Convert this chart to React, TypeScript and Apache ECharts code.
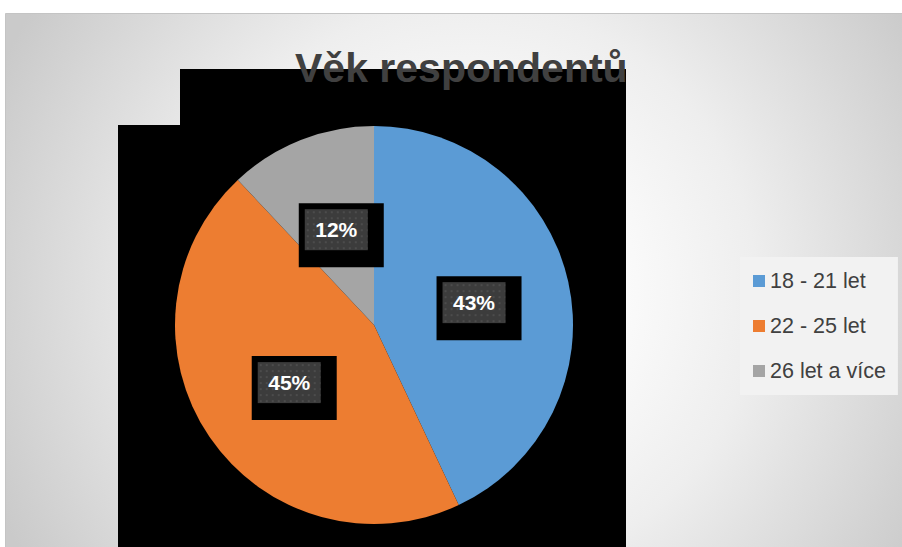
import React, { useEffect, useRef } from "react";
import * as echarts from "echarts";

const TITLE = "Věk respondentů";
const categories = ["18 - 21 let", "22 - 25 let", "26 let a více"];
const shares = [43, 45, 12];
const colors = ["#5b9bd5", "#ed7d31", "#a5a5a5"];

function makeDots(): HTMLCanvasElement | null {
  try {
    const c = document.createElement("canvas");
    c.width = 63;
    c.height = 41;
    const ctx = c.getContext("2d");
    if (!ctx) return null;
    ctx.fillStyle = "#3c3c3c";
    ctx.fillRect(0, 0, 63, 41);
    ctx.fillStyle = "#4c4c4c";
    for (let y = 2; y < 41; y += 6) {
      for (let x = 2; x < 63; x += 6) {
        ctx.fillRect(x, y, 2, 2);
      }
    }
    return c;
  } catch (e) {
    return null;
  }
}

export default function App() {
  const ref = useRef<HTMLDivElement>(null);
  useEffect(() => {
    if (!ref.current) return;
    const chart = echarts.init(ref.current, undefined, { renderer: "svg" });
    const dots = makeDots();
    const font = "'Liberation Sans', Arial, sans-serif";
    chart.setOption({
      animation: false,
      backgroundColor: "#ffffff",
      title: {
        text: TITLE,
        left: 290,
        top: 42,
        textStyle: {
          fontFamily: font,
          fontSize: 41,
          fontWeight: "bold",
          color: "#404040",
        },
        z: 6,
      },
      graphic: [
        {
          type: "rect",
          z: -10,
          silent: true,
          shape: { x: 5.5, y: 13.5, width: 897, height: 534 },
          style: {
            fill: new echarts.graphic.RadialGradient(
              470,
              290,
              520,
              [
                { offset: 0, color: "#ffffff" },
                { offset: 0.3, color: "#fafafa" },
                { offset: 0.55, color: "#eeeeee" },
                { offset: 1, color: "#cacaca" },
              ],
              true
            ),
            stroke: "#c4c4c4",
            lineWidth: 1,
          },
        },
        {
          type: "rect",
          z: -5,
          silent: true,
          shape: { x: 180, y: 69, width: 446, height: 478 },
          style: { fill: "#000000" },
        },
        {
          type: "rect",
          z: -5,
          silent: true,
          shape: { x: 118, y: 125, width: 70, height: 422 },
          style: { fill: "#000000" },
        },
      ],
      legend: {
        orient: "vertical",
        left: 740,
        top: 257,
        backgroundColor: "#f2f2f2",
        padding: [13, 12, 13, 13],
        itemWidth: 12,
        itemHeight: 12,
        itemGap: 23,
        icon: "rect",
        data: categories,
        textStyle: {
          fontFamily: font,
          fontSize: 21.5,
          color: "#404040",
        },
      },
      series: [
        {
          type: "pie",
          center: [374, 325],
          radius: 199,
          startAngle: 90,
          clockwise: true,
          avoidLabelOverlap: false,
          itemStyle: { borderWidth: 0 },
          emphasis: { disabled: true },
          label: {
            show: true,
            position: "inside",
            formatter: (p: any) => "{v|" + p.value + "%}",
            backgroundColor: "#000000",
            padding: [6, 16, 17, 6],
            offset: [5, 5.5],
            rich: {
              v: {
                width: 63,
                height: 41,
                lineHeight: 41,
                align: "center",
                backgroundColor: dots ? { image: dots } : "#3e3e3e",
                color: "#ffffff",
                fontFamily: font,
                fontSize: 21,
                fontWeight: "bold",
              },
            },
          },
          labelLine: { show: false },
          data: categories.map((name, i) => ({
            name,
            value: shares[i],
            itemStyle: { color: colors[i] },
          })),
        },
      ],
    });
    return () => chart.dispose();
  }, []);
  return (
    <div
      ref={ref}
      style={{ position: "absolute", left: 0, top: 0, width: 902, height: 547 }}
    />
  );
}
